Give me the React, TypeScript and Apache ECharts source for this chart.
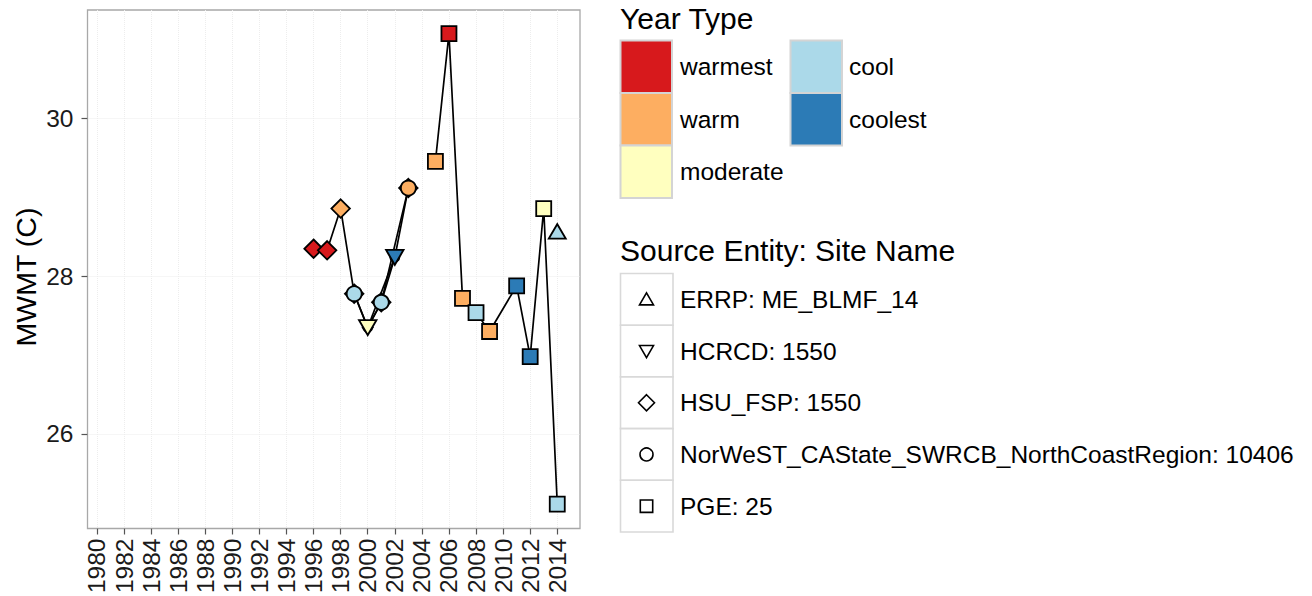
import React, { useEffect, useRef } from "react";
import * as echarts from "echarts";

// Year-type palette (RdYlBu, 5 classes)
const yearTypes = ["warmest", "warm", "moderate", "cool", "coolest"];
const yearTypeColors = ["#D7191C", "#FDAE61", "#FFFFBF", "#ABD9E9", "#2C7BB6"];

// Source entities, in legend order
const sourceNames = [
  "ERRP: ME_BLMF_14",
  "HCRCD: 1550",
  "HSU_FSP: 1550",
  "NorWeST_CAState_SWRCB_NorthCoastRegion: 10406",
  "PGE: 25",
];

// MWMT observations per source
const errpYears = [2014];
const errpValues = [28.57];
const errpTypes = ["cool"];

const hcrcdYears = [2000, 2002];
const hcrcdValues = [27.35, 28.24];
const hcrcdTypes = ["moderate", "coolest"];

const hsuYears = [1996, 1997, 1998, 1999, 2000, 2001, 2003];
const hsuValues = [28.35, 28.33, 28.86, 27.78, 27.35, 27.67, 29.12];
const hsuTypes = ["warmest", "warmest", "warm", "cool", "moderate", "cool", "warm"];

const norwestYears = [1999, 2000, 2001, 2002, 2003];
const norwestValues = [27.78, 27.35, 27.67, 28.24, 29.12];
const norwestTypes = ["cool", "moderate", "cool", "coolest", "warm"];

const pgeYears = [2005, 2006, 2007, 2008, 2009, 2011, 2012, 2013, 2014];
const pgeValues = [29.46, 31.08, 27.72, 27.54, 27.3, 27.88, 26.98, 28.86, 25.11];
const pgeTypes = ["warm", "warmest", "warm", "cool", "warm", "coolest", "coolest", "moderate", "cool"];

// Axis ticks
const xTicks = [1980, 1982, 1984, 1986, 1988, 1990, 1992, 1994, 1996, 1998, 2000, 2002, 2004, 2006, 2008, 2010, 2012, 2014];
const yTicks = [26, 28, 30];

const FONT = "'Liberation Sans', Arial, Helvetica, sans-serif";

const colorOf = (t: string) => yearTypeColors[yearTypes.indexOf(t)];

type Source = {
  years: number[];
  values: number[];
  types: string[];
  symbol: string;
  size: number | number[];
  rotate: number;
};

const sources: Source[] = [
  { years: hsuYears, values: hsuValues, types: hsuTypes, symbol: "diamond", size: 18.5, rotate: 0 },
  { years: norwestYears, values: norwestValues, types: norwestTypes, symbol: "circle", size: 15, rotate: 0 },
  { years: hcrcdYears, values: hcrcdValues, types: hcrcdTypes, symbol: "triangle", size: [17.5, 15], rotate: 180 },
  { years: pgeYears, values: pgeValues, types: pgeTypes, symbol: "rect", size: 15, rotate: 0 },
  { years: errpYears, values: errpValues, types: errpTypes, symbol: "triangle", size: [17, 14.5], rotate: 0 },
];

// A point lying under an HCRCD triangle is drawn small enough to sit behind it
const coveredByTriangle = (year: number, value: number) =>
  hcrcdYears.some((y, i) => y === year && Math.abs(hcrcdValues[i] - value) < 0.05);

function buildOption() {
  const lineSeries = sources.map((s) => ({
    type: "line",
    data: s.years.map((y, i) => [y, s.values[i]]),
    symbol: "none",
    silent: true,
    z: 2,
    lineStyle: { color: "#000", width: 1.7 },
  }));
  const pointSeries = sources.map((s, si) => ({
    type: "scatter",
    symbol: s.symbol,
    symbolSize: s.size,
    symbolRotate: s.rotate,
    z: 3,
    data: s.years.map((y, i) => {
      const item: any = {
        value: [y, s.values[i]],
        itemStyle: { color: colorOf(s.types[i]) },
      };
      if (si < 2 && coveredByTriangle(y, s.values[i])) item.symbolSize = si === 0 ? 10 : 9;
      return item;
    }),
    itemStyle: { borderColor: "#000", borderWidth: 1.8, opacity: 1 },
  }));

  const graphics: any[] = [];

  // y axis title
  graphics.push({
    type: "text",
    x: 26,
    y: 277,
    rotation: Math.PI / 2,
    style: {
      text: "MWMT (C)",
      font: `28.5px ${FONT}`,
      fill: "#000",
      align: "center",
      verticalAlign: "middle",
    },
  });

  // Year Type legend
  graphics.push({
    type: "text",
    x: 620,
    y: 18,
    style: { text: "Year Type", font: `30px ${FONT}`, fill: "#000", align: "left", verticalAlign: "middle" },
  });
  const keyW = 51.5;
  const keyH = 52.5;
  yearTypes.forEach((t, i) => {
    const col = i < 3 ? 0 : 1;
    const row = i < 3 ? i : i - 3;
    const kx = col === 0 ? 620.5 : 790.5;
    const ky = 40.5 + row * keyH;
    graphics.push({
      type: "rect",
      shape: { x: kx, y: ky, width: keyW, height: keyH },
      style: { fill: yearTypeColors[i], stroke: "#d4d4d4", lineWidth: 2 },
    });
    graphics.push({
      type: "text",
      x: col === 0 ? 680 : 849,
      y: ky + keyH / 2,
      style: { text: t, font: `24.5px ${FONT}`, fill: "#000", align: "left", verticalAlign: "middle" },
    });
  });

  // Source legend
  graphics.push({
    type: "text",
    x: 620,
    y: 250,
    style: {
      text: "Source Entity: Site Name",
      font: `30px ${FONT}`,
      fill: "#000",
      align: "left",
      verticalAlign: "middle",
    },
  });
  const rowH = 51.7;
  const cx = 646.5;
  sourceNames.forEach((name, i) => {
    const ry = 273.5 + i * rowH;
    const cy = ry + rowH / 2;
    graphics.push({
      type: "rect",
      shape: { x: 620.5, y: ry, width: 52.5, height: rowH },
      style: { fill: "#fff", stroke: "#d9d9d9", lineWidth: 1.6 },
    });
    const sym = { fill: "none", stroke: "#000", lineWidth: 1.6 };
    if (i === 0) {
      graphics.push({
        type: "polygon",
        shape: { points: [[cx - 7, cy + 5.5], [cx + 7, cy + 5.5], [cx, cy - 6.5]] },
        style: sym,
      });
    } else if (i === 1) {
      graphics.push({
        type: "polygon",
        shape: { points: [[cx - 7, cy - 5.5], [cx + 7, cy - 5.5], [cx, cy + 6.5]] },
        style: sym,
      });
    } else if (i === 2) {
      graphics.push({
        type: "polygon",
        shape: { points: [[cx, cy - 8], [cx + 8, cy], [cx, cy + 8], [cx - 8, cy]] },
        style: sym,
      });
    } else if (i === 3) {
      graphics.push({ type: "circle", shape: { cx, cy, r: 6.5 }, style: sym });
    } else {
      graphics.push({
        type: "rect",
        shape: { x: cx - 6.2, y: cy - 6.2, width: 12.4, height: 12.4 },
        style: sym,
      });
    }
    graphics.push({
      type: "text",
      x: 680,
      y: cy,
      style: { text: name, font: `24.5px ${FONT}`, fill: "#000", align: "left", verticalAlign: "middle" },
    });
  });

  return {
    animation: false,
    backgroundColor: "#fff",
    textStyle: { fontFamily: FONT },
    grid: {
      left: 87.5,
      top: 10,
      width: 492.5,
      height: 520,
      show: true,
      borderColor: "#a8a8a8",
      borderWidth: 1.3,
      backgroundColor: "transparent",
    },
    xAxis: {
      type: "value",
      min: 1979.3,
      max: 2015.68,
      axisLine: { show: false },
      axisTick: { show: true, length: 6, lineStyle: { color: "#555", width: 1.2 }, customValues: xTicks },
      axisLabel: {
        rotate: 90,
        margin: 10,
        fontSize: 24.5,
        color: "#1a1a1a",
        fontFamily: FONT,
        customValues: xTicks,
        formatter: (v: number) => String(v),
      },
      splitLine: { show: true, lineStyle: { color: "#ededed", type: "dotted", width: 1 } },
    },
    yAxis: {
      type: "value",
      min: 24.8,
      max: 31.38,
      axisLine: { show: false },
      axisTick: { show: true, length: 6, lineStyle: { color: "#555", width: 1.2 }, customValues: yTicks },
      axisLabel: {
        margin: 14,
        fontSize: 24.5,
        color: "#1a1a1a",
        fontFamily: FONT,
        customValues: yTicks,
        formatter: (v: number) => String(v),
      },
      splitLine: { show: true, lineStyle: { color: "#ededed", type: "dotted", width: 1 } },
    },
    graphic: { elements: graphics },
    series: [...lineSeries, ...pointSeries],
  };
}

export default function App() {
  const ref = useRef<HTMLDivElement>(null);
  useEffect(() => {
    if (!ref.current) return;
    const chart = echarts.init(ref.current, undefined, { renderer: "svg" });
    chart.setOption(buildOption() as any);
    return () => chart.dispose();
  }, []);
  return (
    <div
      ref={ref}
      style={{ position: "fixed", left: 0, top: 0, width: 1312, height: 596, background: "#fff" }}
    />
  );
}
